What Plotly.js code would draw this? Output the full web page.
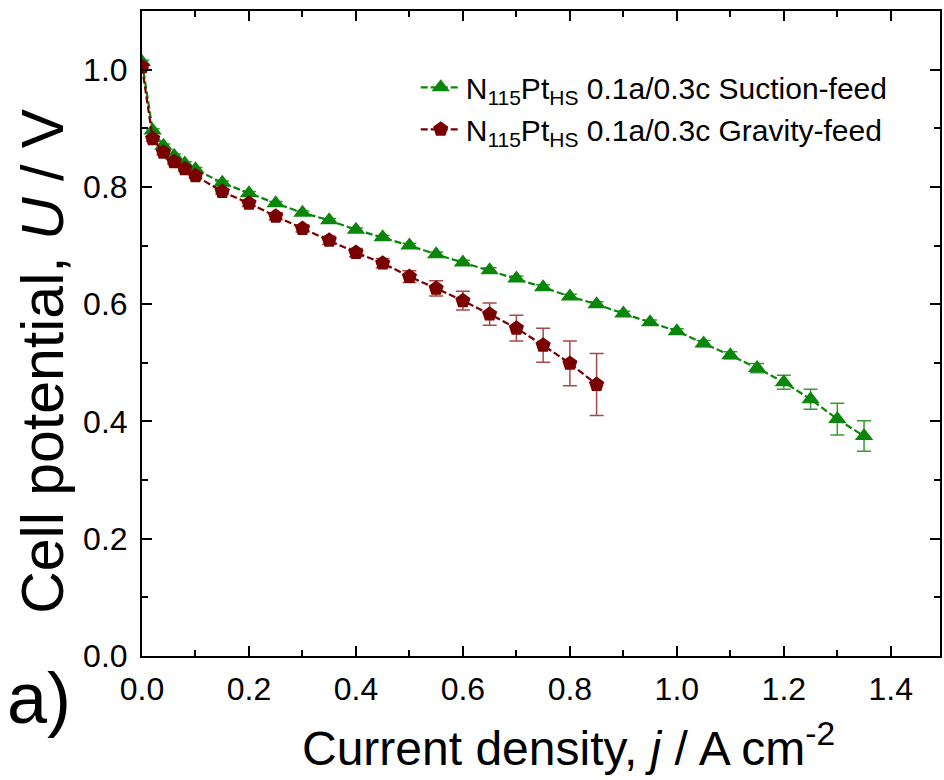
<!DOCTYPE html>
<html>
<head>
<meta charset="utf-8">
<script src="https://cdn.plot.ly/plotly-3.0.1.min.js"></script>
<style>html,body{margin:0;padding:0;background:#fff;}#chart{width:944px;height:780px;}</style>
</head>
<body>
<div id="chart"></div>
<script>
// Suction-feed (green triangles)
const suctionJ = [0, 0.02, 0.04, 0.06, 0.08, 0.1, 0.15, 0.2, 0.25, 0.3, 0.35, 0.4, 0.45, 0.5, 0.55, 0.6, 0.65, 0.7, 0.75, 0.8, 0.85, 0.9, 0.95, 1.0, 1.05, 1.1, 1.15, 1.2, 1.25, 1.3, 1.35];
const suctionU = [1.013, 0.896, 0.870, 0.853, 0.840, 0.830, 0.807, 0.789, 0.772, 0.756, 0.743, 0.727, 0.714, 0.700, 0.685, 0.671, 0.658, 0.644, 0.629, 0.613, 0.600, 0.584, 0.569, 0.554, 0.533, 0.513, 0.491, 0.467, 0.438, 0.404, 0.375];
const suctionErr = [0.003, 0.003, 0.003, 0.003, 0.003, 0.003, 0.003, 0.003, 0.003, 0.003, 0.003, 0.003, 0.003, 0.004, 0.004, 0.004, 0.004, 0.004, 0.004, 0.004, 0.004, 0.004, 0.004, 0.004, 0.005, 0.006, 0.008, 0.012, 0.017, 0.027, 0.026];

// Gravity-feed (dark red pentagons)
const gravityJ = [0, 0.02, 0.04, 0.06, 0.08, 0.1, 0.15, 0.2, 0.25, 0.3, 0.35, 0.4, 0.45, 0.5, 0.55, 0.6, 0.65, 0.7, 0.75, 0.8, 0.85];
const gravityU = [1.005, 0.882, 0.859, 0.843, 0.831, 0.819, 0.792, 0.772, 0.750, 0.729, 0.709, 0.688, 0.670, 0.647, 0.627, 0.606, 0.583, 0.559, 0.530, 0.499, 0.463];
const gravityErr = [0.004, 0.004, 0.004, 0.004, 0.004, 0.004, 0.004, 0.005, 0.006, 0.006, 0.007, 0.007, 0.008, 0.010, 0.013, 0.016, 0.019, 0.022, 0.029, 0.038, 0.053];

const seriesNames = [
  'N<sub>115</sub>Pt<sub>HS</sub> 0.1a/0.3c Suction-feed',
  'N<sub>115</sub>Pt<sub>HS</sub> 0.1a/0.3c Gravity-feed'
];
const xTickVals = [0, 0.2, 0.4, 0.6, 0.8, 1.0, 1.2, 1.4];
const yTickVals = [0, 0.2, 0.4, 0.6, 0.8, 1.0];
const xTitle = 'Current density, <i>j</i> / A cm<sup>-2</sup>';
const yTitle = 'Cell potential, <i>U</i> / V';

const FONT = 'Liberation Sans, Arial, sans-serif';
const GREEN = '#0a870a';
const RED = '#7a0000';

const traces = [
  {
    x: suctionJ, y: suctionU, name: seriesNames[0], type: 'scatter', mode: 'lines+markers',
    line: {color: GREEN, width: 2.2, dash: '7px,3px'},
    marker: {symbol: 'triangle-up', size: 16, color: GREEN},
    error_y: {type: 'data', array: suctionErr, visible: true, color: '#3a9a3a', thickness: 1.5, width: 7}
  },
  {
    x: gravityJ, y: gravityU, name: seriesNames[1], type: 'scatter', mode: 'lines+markers',
    line: {color: RED, width: 2.2, dash: '7px,3px'},
    marker: {symbol: 'pentagon', size: 16, color: RED},
    error_y: {type: 'data', array: gravityErr, visible: true, color: '#a84848', thickness: 1.5, width: 7}
  }
];

const axisCommon = {
  showline: true, linecolor: '#000', linewidth: 2, mirror: 'allticks',
  ticks: 'inside', ticklen: 10, tickwidth: 2, tickcolor: '#000',
  showgrid: false, zeroline: false,
  tickfont: {family: FONT, size: 32, color: '#000'},
  minor: {ticks: 'inside', ticklen: 6, tickwidth: 2, tickcolor: '#000', dtick: 0.1, showgrid: false}
};

const layout = {
  width: 944, height: 780,
  margin: {l: 142, r: 4, t: 11, b: 124},
  paper_bgcolor: '#fff', plot_bgcolor: '#fff',
  font: {family: FONT, color: '#000'},
  showlegend: true,
  legend: {
    x: 0.343, y: 0.922, xanchor: 'left', yanchor: 'top',
    bgcolor: 'rgba(0,0,0,0)', borderwidth: 0,
    font: {family: FONT, size: 30, color: '#000'},
    itemwidth: 40, tracegroupgap: 0
  },
  xaxis: Object.assign({}, axisCommon, {
    range: [0, 1.492], tickvals: xTickVals, tickformat: '.1f',
    ticklabelstandoff: 4,
    title: {text: ''}
  }),
  yaxis: Object.assign({}, axisCommon, {
    range: [0, 1.1], tickvals: yTickVals, tickformat: '.1f',
    ticklabelstandoff: 6,
    title: {text: ''}
  }),
  annotations: [
    {text: xTitle, xref: 'paper', yref: 'paper', x: 0.535, y: -0.138, xanchor: 'center', yanchor: 'middle',
     showarrow: false, font: {family: FONT, size: 48, color: '#000'}},
    {text: yTitle, xref: 'paper', yref: 'paper', x: -0.125, y: 0.458, xanchor: 'center', yanchor: 'middle',
     textangle: -90, showarrow: false, font: {family: FONT, size: 59, color: '#000'}},
    {text: 'a)', xref: 'paper', yref: 'paper', x: -0.172, y: 0.0, xanchor: 'left', yanchor: 'top',
     showarrow: false, font: {family: FONT, size: 72, color: '#000'}}
  ]
};

Plotly.newPlot('chart', traces, layout, {displayModeBar: false, staticPlot: true});
</script>
</body>
</html>
